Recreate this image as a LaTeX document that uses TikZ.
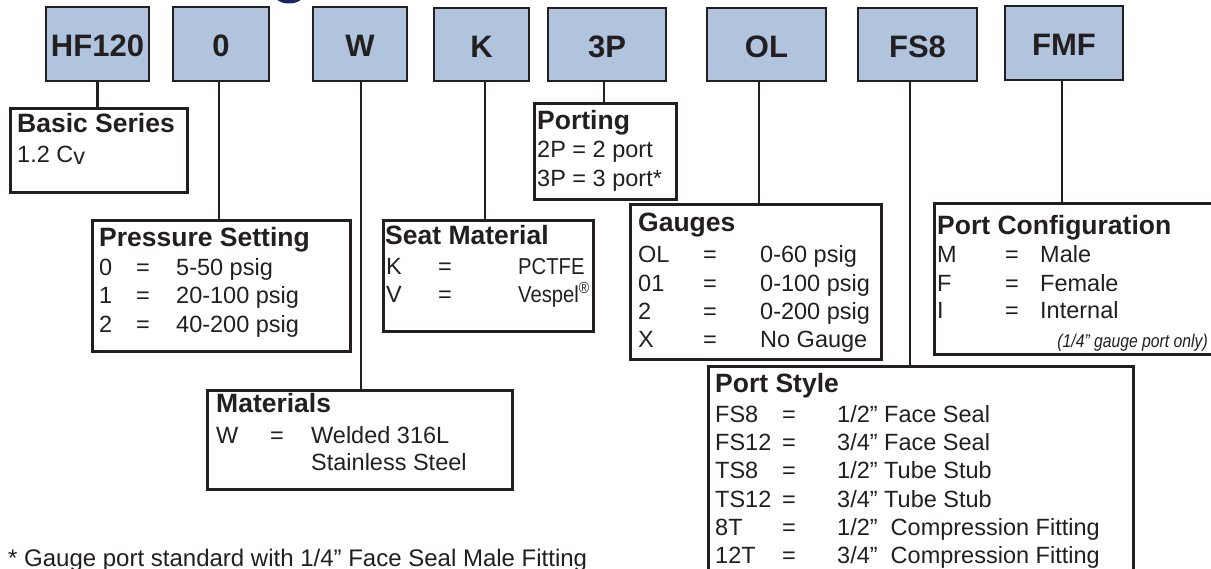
\documentclass[tikz,border=0pt]{standalone}
\usepackage{fontspec}
\setmainfont{Liberation Sans}
\newfontfamily\narrowfont[FakeStretch=0.85]{Liberation Sans}
\newfontfamily\semifont[FakeStretch=0.88]{Liberation Sans}
\definecolor{ink}{RGB}{35,31,32}
\definecolor{codefill}{RGB}{176,196,222}
\definecolor{navyblob}{RGB}{20,40,100}
\newcommand\kvrow[8][]{%
  \node[txt] (#2k) at (#4,#3) {#7};
  \node[eqs] (#2e) at (#5,#3) {=};
  \node[txt,#1] (#2v) at (#6,#3) {#8};}
\begin{document}
\begin{tikzpicture}[x=1pt,y=-1pt,
  code/.style={draw=ink, line width=2.7pt, fill=codefill, text=ink,
    font=\bfseries\fontsize{31}{31}\selectfont, text height=26pt, text depth=0pt, inner sep=0pt},
  lbox/.style={draw=ink, line width=2.7pt, inner sep=0pt, anchor=north west},
  conn/.style={draw=ink, line width=2.3pt},
  ttl/.style={font=\bfseries\fontsize{26.5}{30}\selectfont, text=ink, inner sep=0pt, anchor=base west},
  txt/.style={font=\fontsize{23.5}{28}\selectfont, text=ink, inner sep=0pt, anchor=base west},
  eqs/.style={txt, anchor=base},
  seatval/.style={font=\semifont\fontsize{23}{26}\selectfont},
  notestyle/.style={font=\narrowfont\itshape\fontsize{18.5}{20}\selectfont, text=ink, inner sep=0pt, anchor=base east}]
\useasboundingbox (0,0) rectangle (1211,569);
\fill[white] (0,0) rectangle (1211,569);
\fill[navyblob] (289,-6) ellipse [x radius=15, y radius=9.5];
% code boxes
\node[code, minimum width=103pt, minimum height=74pt] (hf) at (97.5,44) {HF120};
\node[code, minimum width=96pt, minimum height=74pt] (zero) at (221,44) {0};
\node[code, minimum width=94pt, minimum height=74pt] (w) at (360,44) {W};
\node[code, minimum width=95pt, minimum height=73pt] (k) at (481.5,44.5) {K};
\node[code, minimum width=118pt, minimum height=73pt] (p3) at (607,44.5) {3P};
\node[code, minimum width=119pt, minimum height=73pt] (ol) at (766.5,44.5) {OL};
\node[code, minimum width=119pt, minimum height=73pt] (fs) at (917.5,44.5) {FS8};
\node[code, minimum width=118pt, minimum height=74pt] (fmf) at (1064,43) {FMF};
% Basic Series
\node[lbox, minimum width=177pt, minimum height=84pt] (bs) at (9,107) {};
\node[ttl] (bst) at (17,133) {Basic Series};
\node[txt] (bsv) at (17,163) {1.2 C\raisebox{-2pt}{v}};
% Pressure Setting
\node[lbox, minimum width=258pt, minimum height=131pt] (pr) at (91,219) {};
\node[ttl] (prt) at (99,247) {Pressure Setting};
\kvrow{pra}{275.5}{99}{143}{176}{0}{5-50 psig}
\kvrow{prb}{304}{99}{143}{176}{1}{20-100 psig}
\kvrow{prc}{333}{99}{143}{176}{2}{40-200 psig}
% Materials
\node[lbox, minimum width=305pt, minimum height=99pt] (ma) at (206,389) {};
\node[ttl] (mat) at (216,413) {Materials};
\kvrow{maa}{443}{216}{277}{311}{W}{Welded 316L}
\node[txt] (mab) at (311,471) {Stainless Steel};
% Seat Material
\node[lbox, minimum width=210pt, minimum height=111pt] (sm) at (382,219) {};
\node[ttl] (smt) at (385,245) {Seat Material};
\kvrow[seatval]{sma}{275}{386}{445}{518}{K}{PCTFE}
\kvrow[seatval]{smb}{303}{386}{445}{518}{V}{Vespel\textsuperscript{®}}
% Porting
\node[lbox, minimum width=142pt, minimum height=96pt] (po) at (533,102) {};
\node[ttl] (pot) at (537,130) {Porting};
\node[txt] (poa) at (537,158) {2P = 2 port};
\node[txt] (pob) at (537,187) {3P = 3 port*};
% Gauges
\node[lbox, minimum width=251pt, minimum height=155pt] (ga) at (629,203) {};
\node[ttl] (gat) at (638,232) {Gauges};
\kvrow{gaa}{263}{638}{710}{760}{OL}{0-60 psig}
\kvrow{gab}{292}{638}{710}{760}{01}{0-100 psig}
\kvrow{gac}{320}{638}{710}{760}{2}{0-200 psig}
\kvrow{gad}{348}{638}{710}{760}{X}{No Gauge}
% Port Configuration
\node[lbox, minimum width=285pt, minimum height=151pt] (pc) at (933,202) {};
\node[ttl] (pct) at (937,235) {Port Configuration};
\kvrow{pca}{263}{937}{1012}{1040}{M}{Male}
\kvrow{pcb}{292}{937}{1012}{1040}{F}{Female}
\kvrow{pcc}{319}{937}{1012}{1040}{I}{Internal}
\node[notestyle] (pcn) at (1208,348) {(1/4” gauge port only)};
% Port Style
\node[lbox, minimum width=425pt, minimum height=215pt] (sty) at (707,365) {};
\node[ttl] (styt) at (715,392) {Port Style};
\kvrow{sta}{422}{715}{789}{837}{FS8}{1/2” Face Seal}
\kvrow{stb}{450}{715}{789}{837}{FS12}{3/4” Face Seal}
\kvrow{stc}{478}{715}{789}{837}{TS8}{1/2” Tube Stub}
\kvrow{std}{507}{715}{789}{837}{TS12}{3/4” Tube Stub}
\kvrow{ste}{535}{715}{789}{837}{8T}{1/2”\ \ Compression Fitting}
\kvrow{stf}{563}{715}{789}{837}{12T}{3/4”\ \ Compression Fitting}
% footnote
\node[txt, font=\fontsize{24}{28}\selectfont] (fn) at (8,566) {* Gauge port standard with 1/4” Face Seal Male Fitting};
% connectors
\coordinate (c1) at (hf.south);
\coordinate (c2) at ([xshift=-2pt]zero.south);
\coordinate (c3) at ([xshift=1pt]w.south);
\coordinate (c4) at ([xshift=3.5pt]k.south);
\coordinate (c5) at ([xshift=-3pt]p3.south);
\coordinate (c6) at ([xshift=-7.5pt]ol.south);
\coordinate (c7) at ([xshift=-7.5pt]fs.south);
\coordinate (c8) at ([xshift=-2pt]fmf.south);
\draw[conn] (c1) -- (c1 |- bs.north);
\draw[conn] (c2) -- (c2 |- pr.north);
\draw[conn] (c3) -- (c3 |- ma.north);
\draw[conn] (c4) -- (c4 |- sm.north);
\draw[conn] (c5) -- (c5 |- po.north);
\draw[conn] (c6) -- (c6 |- ga.north);
\draw[conn] (c7) -- (c7 |- sty.north);
\draw[conn] (c8) -- (c8 |- pc.north);
\end{tikzpicture}
\end{document}
